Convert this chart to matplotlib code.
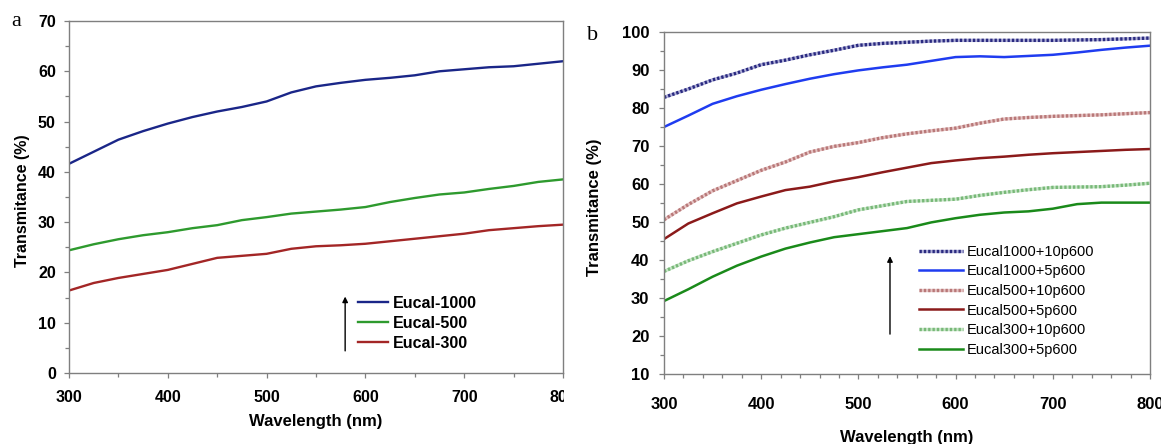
import matplotlib
matplotlib.use("Agg")
import matplotlib.pyplot as plt
from matplotlib.ticker import MultipleLocator
from matplotlib.transforms import Bbox, TransformedBbox
from matplotlib.legend_handler import HandlerTuple

plt.rcParams['font.family'] = ['Liberation Sans', 'DejaVu Sans']

# ---- panel a data ----
wl_a = [300, 325, 350, 375, 400, 425, 450, 475, 500, 525, 550,
        575, 600, 625, 650, 675, 700, 725, 750, 775, 800]
eucal_1000 = [41.6, 44.0, 46.4, 48.1, 49.6, 50.9, 52.0, 52.9, 54.0, 55.8, 57.0,
              57.7, 58.3, 58.7, 59.2, 60.0, 60.4, 60.8, 61.0, 61.5, 62.0]
eucal_500 = [24.4, 25.6, 26.6, 27.4, 28.0, 28.8, 29.4, 30.4, 31.0, 31.7, 32.1,
             32.5, 33.0, 34.0, 34.8, 35.5, 35.9, 36.6, 37.2, 38.0, 38.5]
eucal_300 = [16.4, 17.9, 18.9, 19.7, 20.5, 21.7, 22.9, 23.3, 23.7, 24.7, 25.2,
             25.4, 25.7, 26.2, 26.7, 27.2, 27.7, 28.4, 28.8, 29.2, 29.5]
labels_a = ['Eucal-1000', 'Eucal-500', 'Eucal-300']

# ---- panel b data ----
wl_b = [300, 325, 350, 375, 400, 425, 450, 475, 500, 525, 550,
        575, 600, 625, 650, 675, 700, 725, 750, 775, 800]
e1000_10 = [82.8, 85.0, 87.4, 89.2, 91.4, 92.6, 94.0, 95.2, 96.5, 97.0, 97.3,
            97.6, 97.8, 97.8, 97.8, 97.8, 97.8, 97.9, 98.0, 98.2, 98.4]
e1000_5 = [75.0, 78.0, 81.1, 83.1, 84.8, 86.3, 87.7, 88.9, 89.9, 90.7, 91.4,
           92.4, 93.4, 93.6, 93.4, 93.7, 94.0, 94.6, 95.3, 95.9, 96.4]
e500_10 = [50.6, 54.6, 58.2, 60.9, 63.6, 65.8, 68.4, 69.9, 70.9, 72.2, 73.2,
           74.0, 74.7, 76.0, 77.1, 77.5, 77.8, 78.0, 78.2, 78.5, 78.8]
e500_5 = [45.5, 49.6, 52.3, 54.9, 56.7, 58.4, 59.3, 60.7, 61.8, 63.1, 64.3,
          65.5, 66.2, 66.8, 67.2, 67.7, 68.1, 68.4, 68.7, 69.0, 69.2]
e300_10 = [37.0, 39.8, 42.2, 44.4, 46.6, 48.4, 49.9, 51.4, 53.2, 54.3, 55.4,
           55.7, 56.0, 57.0, 57.8, 58.5, 59.1, 59.2, 59.3, 59.7, 60.2]
e300_5 = [29.2, 32.3, 35.6, 38.5, 40.9, 43.0, 44.6, 46.0, 46.8, 47.6, 48.4,
          49.9, 51.0, 51.9, 52.5, 52.8, 53.5, 54.7, 55.1, 55.1, 55.1]
labels_b = ['Eucal1000+10p600', 'Eucal1000+5p600', 'Eucal500+10p600',
            'Eucal500+5p600', 'Eucal300+10p600', 'Eucal300+5p600']

W, H = 1161, 444
fig = plt.figure(figsize=(W / 100, H / 100), dpi=100)
axa = fig.add_axes([69 / W, 71 / H, 494 / W, 352 / H])
axb = fig.add_axes([664 / W, 70 / H, 486 / W, 342 / H])

spine_col = '#7f7f7f'


def style_axes(ax, fs):
    for s in ax.spines.values():
        s.set_color(spine_col)
        s.set_linewidth(1.0)
    ax.tick_params(which='both', direction='out', color=spine_col, width=0.9)
    ax.tick_params(which='major', length=3.5)
    ax.tick_params(which='minor', length=3)
    for lab in ax.get_xticklabels() + ax.get_yticklabels():
        lab.set_fontweight('bold')
        lab.set_fontsize(fs)


# ---- panel a ----
lines_a = []
for ys, col in zip([eucal_1000, eucal_500, eucal_300],
                   ['#1a2688', '#2e9a2e', '#a32626']):
    ln, = axa.plot(wl_a, ys, color=col, lw=1.7)
    lines_a.append(ln)
axa.set_xlim(300, 800)
axa.set_ylim(0, 70)
axa.set_xticks(range(300, 801, 100))
axa.set_yticks(range(0, 71, 10))
axa.xaxis.set_minor_locator(MultipleLocator(50))
axa.yaxis.set_minor_locator(MultipleLocator(5))
style_axes(axa, 11.5)
axa.tick_params(axis='x', which='major', pad=9)
axa.tick_params(axis='y', which='major', pad=6)
axa.set_xlabel('Wavelength (nm)', fontsize=12, fontweight='bold')
axa.set_ylabel('Transmitance (%)', fontsize=11.5, fontweight='bold')
axa.xaxis.set_label_coords(0.5, -0.139)
axa.yaxis.set_label_coords(-0.095, 0.49)
axa.xaxis.label.set_va('center')
axa.yaxis.label.set_va('center')
axa.legend(lines_a, labels_a, loc='upper left', bbox_to_anchor=(0.585, 0.22),
           frameon=False, borderpad=0, borderaxespad=0, handlelength=1.85,
           handletextpad=0.35, labelspacing=0.32,
           prop={'size': 11.5, 'weight': 'bold'})
axa.annotate('', xy=(579.5, 15.2), xytext=(579.5, 4.4),
             arrowprops=dict(arrowstyle='-|>', color='black', lw=1.0,
                             mutation_scale=8, shrinkA=0, shrinkB=0))
fig.text(16 / W, 1 - 22 / H, 'a', family='Liberation Serif', fontsize=16,
         ha='center', va='center')

# clip the last x label of panel a like the cropped original
clip = TransformedBbox(Bbox.from_extents(0, 0, 564 / W, 1), fig.transFigure)
last = axa.xaxis.get_major_ticks()[-1].label1
last.set_clip_box(clip)
last.set_clip_on(True)

# ---- panel b ----
handles_b = []
dotted = [(e1000_10, '#b0b0d8', '#2a2a80'),
          (e500_10, '#e6c4c4', '#b87878'),
          (e300_10, '#c8e6c8', '#78b878')]
solid = [(e1000_5, '#1f3cf0'), (e500_5, '#8b1a1a'), (e300_5, '#1a8a1a')]
for (ys_d, base, dots), (ys_s, col) in zip(dotted, solid):
    l1, = axb.plot(wl_b, ys_d, color=base, lw=2.4, solid_capstyle='butt')
    l2, = axb.plot(wl_b, ys_d, color=dots, lw=2.4, linestyle=(0, (0.7, 0.6)))
    l3, = axb.plot(wl_b, ys_s, color=col, lw=1.8)
    handles_b.append((l1, l2))
    handles_b.append(l3)
axb.set_xlim(300, 800)
axb.set_ylim(10, 100)
axb.set_xticks(range(300, 801, 100))
axb.set_yticks(range(10, 101, 10))
axb.xaxis.set_minor_locator(MultipleLocator(20))
axb.yaxis.set_minor_locator(MultipleLocator(5))
style_axes(axb, 12)
axb.tick_params(axis='x', which='major', pad=13)
axb.tick_params(axis='y', which='major', pad=7)
axb.set_xlabel('Wavelength (nm)', fontsize=12, fontweight='bold')
axb.set_ylabel('Transmitance (%)', fontsize=12, fontweight='bold')
axb.xaxis.set_label_coords(0.5, -0.187)
axb.yaxis.set_label_coords(-0.143, 0.488)
axb.xaxis.label.set_va('center')
axb.yaxis.label.set_va('center')
axb.legend(handles_b, labels_b, loc='upper left', bbox_to_anchor=(0.525, 0.378),
           frameon=False, borderpad=0, borderaxespad=0, handlelength=3.0,
           handletextpad=0.25, labelspacing=0.385, prop={'size': 10.5},
           handler_map={tuple: HandlerTuple(ndivide=1, pad=0)})
axb.annotate('', xy=(532.5, 41.0), xytext=(532.5, 20.5),
             arrowprops=dict(arrowstyle='-|>', color='black', lw=1.0,
                             mutation_scale=8, shrinkA=0, shrinkB=0))
fig.text(593 / W, 1 - 35 / H, 'b', family='Liberation Serif', fontsize=16,
         ha='center', va='center')

fig.savefig('out.png', dpi=100)
